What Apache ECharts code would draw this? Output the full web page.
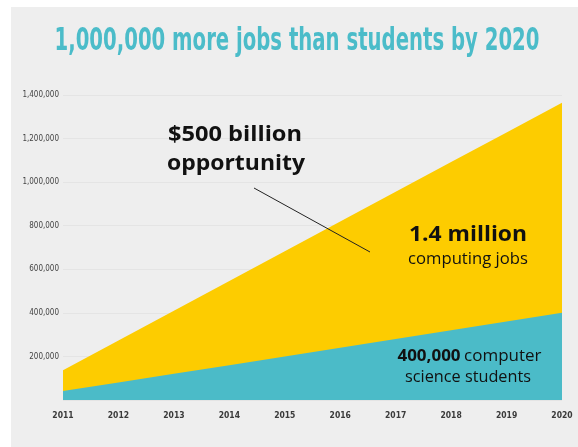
<!DOCTYPE html>
<html>
<head>
<meta charset="utf-8">
<script src="https://cdn.jsdelivr.net/npm/echarts@6/dist/echarts.min.js"></script>
<style>
  html, body { margin: 0; padding: 0; background: #ffffff; }
  #wrap { position: relative; width: 578px; height: 447px; background: #ffffff; }
  #bg { position: absolute; left: 11px; top: 7px; right: 0; bottom: 0; background: #eeeeee; }
  #chart { position: absolute; left: 0; top: 0; width: 578px; height: 447px; }
</style>
</head>
<body>
<div id="wrap"><div id="bg"></div><div id="chart"></div></div>
<script>
// ---- data ----
const years = ['2011', '2012', '2013', '2014', '2015', '2016', '2017', '2018', '2019', '2020'];
const computingJobs = [137000, 273000, 410000, 546000, 683000, 819000, 956000, 1092000, 1228000, 1365000];
const csStudents = [41000, 80000, 120000, 160000, 200000, 240000, 280000, 320000, 360000, 400000];
const yTicks = [0, 200000, 400000, 600000, 800000, 1000000, 1200000, 1400000];
const titleText = '1,000,000 more jobs than students by 2020';

const YELLOW = '#fdcc00';
const TEAL = '#4bbbc8';
const NARROW = "'Liberation Sans Narrow', 'DejaVu Sans Condensed', sans-serif";
const BODY = "'Open Sans', 'Noto Sans', sans-serif";

const ctx = document.createElement('canvas').getContext('2d');
function measure(font, text) { ctx.font = font; return ctx.measureText(text).width; }

function fitText(text, font, color, cx, cy, targetW) {
  const w = measure(font, text);
  return {
    type: 'text', x: cx, y: cy, scaleX: targetW / w, scaleY: 1, z: 100,
    style: { text: text, x: 0, y: 0, font: font, fill: color, align: 'center', verticalAlign: 'middle' }
  };
}

const titleFont = 'bold 32px ' + NARROW;
const boldAnno = '700 22px ' + BODY;
const normAnno = '400 17px ' + BODY;

// rich text "400,000 computer"
const richBold = '700 16px ' + BODY, richNorm = '400 16px ' + BODY;
const richW = measure(richBold, '400,000') + measure(richNorm, ' computer');
const richScale = 145 / richW;

const chart = echarts.init(document.getElementById('chart'), null, { renderer: 'canvas' });
chart.setOption({
  backgroundColor: 'transparent',
  animation: false,
  grid: { left: 63, right: 16, top: 95, bottom: 47, containLabel: false },
  xAxis: {
    type: 'category', data: years, boundaryGap: false,
    axisLine: { show: false }, axisTick: { show: false },
    axisLabel: { color: '#3a3a3a', fontFamily: NARROW, fontSize: 8.5, fontWeight: 'bold', margin: 11 },
    splitLine: { show: false }
  },
  yAxis: {
    type: 'value', min: yTicks[0], max: yTicks[yTicks.length - 1], interval: yTicks[1] - yTicks[0],
    axisLine: { show: false }, axisTick: { show: false },
    axisLabel: {
      color: '#444', fontFamily: NARROW, fontSize: 8, margin: 4,
      formatter: function (v) { return v === 0 ? '' : v.toLocaleString('en-US'); }
    },
    splitLine: { lineStyle: { color: '#e4e4e4', width: 1 } }
  },
  series: [
    {
      name: 'Computing jobs', type: 'line', data: computingJobs, symbol: 'none',
      lineStyle: { width: 0 }, areaStyle: { color: YELLOW, opacity: 1 }, z: 2
    },
    {
      name: 'CS students', type: 'line', data: csStudents, symbol: 'none',
      lineStyle: { width: 0 }, areaStyle: { color: TEAL, opacity: 1 }, z: 3
    }
  ],
  graphic: [
    fitText(titleText, titleFont, '#4bbcc9', 297, 42, 485),
    fitText('$500 billion', boldAnno, '#111', 235, 135, 134),
    fitText('opportunity', boldAnno, '#111', 236, 164, 138),
    {
      type: 'line', z: 100,
      shape: { x1: 254, y1: 188, x2: 370, y2: 252 },
      style: { stroke: '#222', lineWidth: 1 }
    },
    fitText('1.4 million', boldAnno, '#111', 468, 235, 118),
    fitText('computing jobs', normAnno, '#111', 468, 259, 120),
    {
      type: 'text', x: 469.5, y: 356, scaleX: richScale, z: 100,
      style: {
        text: '{b|400,000} {n|computer}', x: 0, y: 0, align: 'center', verticalAlign: 'middle',
        rich: {
          b: { font: richBold, fill: '#111' },
          n: { font: richNorm, fill: '#111' }
        }
      }
    },
    fitText('science students', richNorm, '#111', 468, 377, 126)
  ]
});
</script>
</body>
</html>
